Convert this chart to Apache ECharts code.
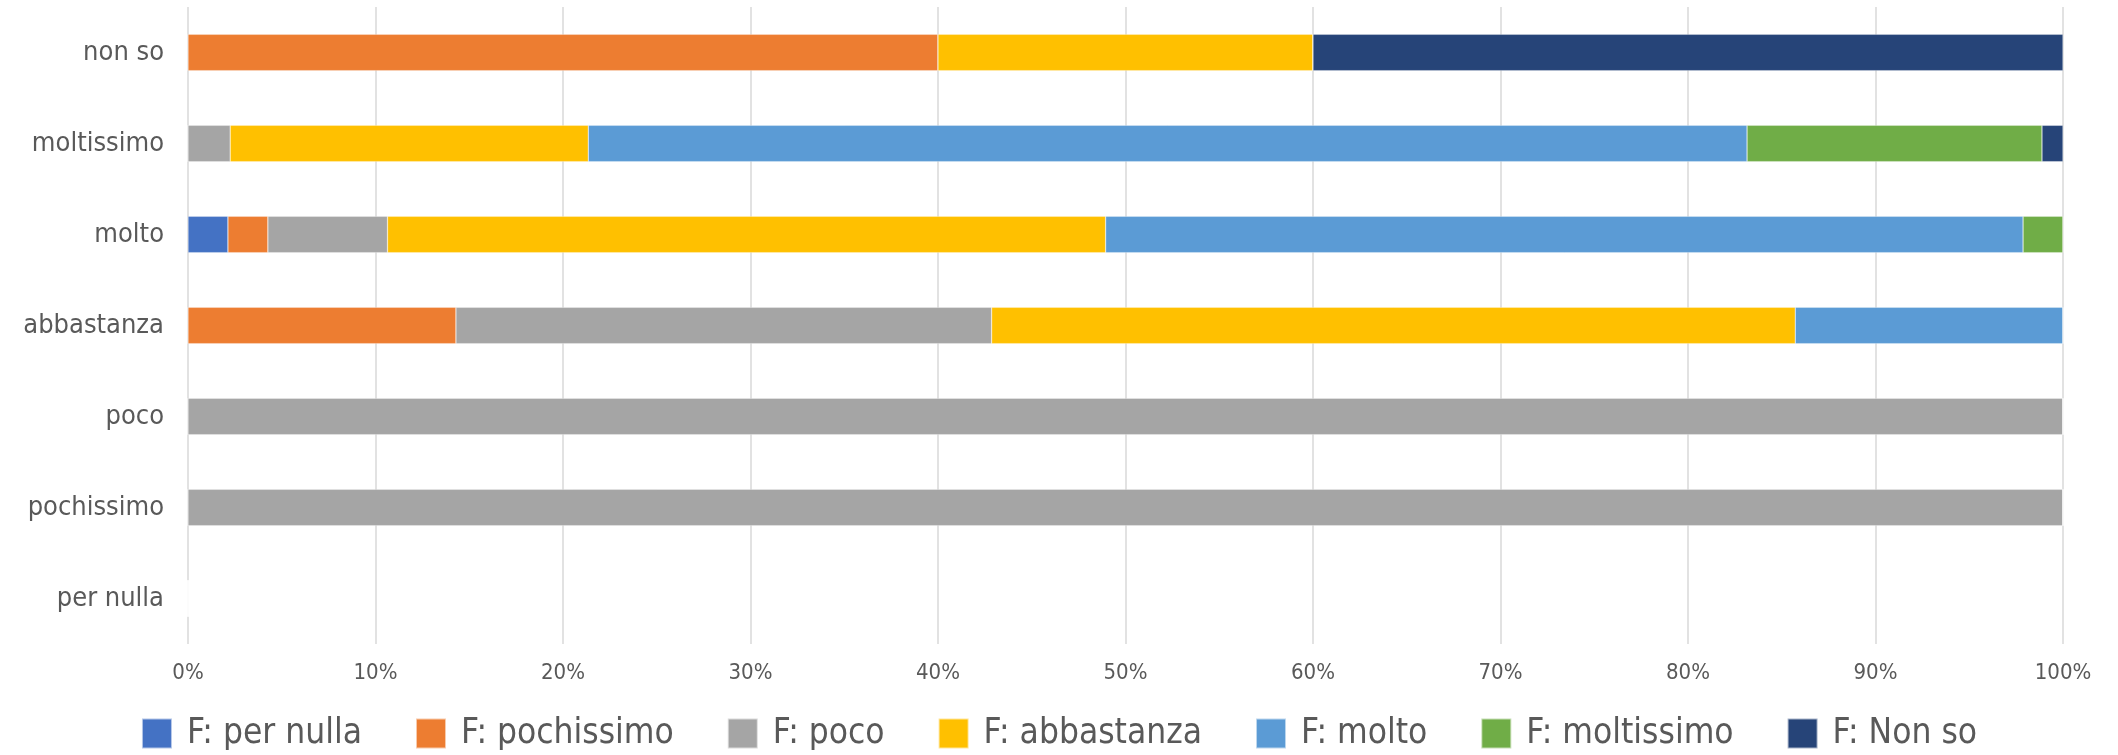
<!DOCTYPE html>
<html>
<head>
<meta charset="utf-8">
<script src="https://cdn.jsdelivr.net/npm/echarts@6/dist/echarts.min.js"></script>
<style>
  html, body { margin: 0; padding: 0; background: #fff; }
  #chart { width: 2118px; height: 755px; }
</style>
</head>
<body>
<div id="chart"></div>
<script>
// categorie (dal basso verso l'alto)
const categories = ['per nulla', 'pochissimo', 'poco', 'abbastanza', 'molto', 'moltissimo', 'non so'];
const xTicks = ['0%', '10%', '20%', '30%', '40%', '50%', '60%', '70%', '80%', '90%', '100%'];

// quote percentuali
const fPerNulla    = [0, 0, 0, 0, 2.13, 0, 0];
const fPochissimo  = [0, 0, 0, 14.29, 2.13, 0, 40];
const fPoco        = [0, 100, 100, 28.57, 6.38, 2.25, 0];
const fAbbastanza  = [0, 0, 0, 42.86, 38.30, 19.10, 20];
const fMolto       = [0, 0, 0, 14.28, 48.93, 61.80, 0];
const fMoltissimo  = [0, 0, 0, 0, 2.13, 15.73, 0];
const fNonSo       = [0, 0, 0, 0, 0, 1.12, 40];

const seriesNames = ['F: per nulla', 'F: pochissimo', 'F: poco', 'F: abbastanza', 'F: molto', 'F: moltissimo', 'F: Non so'];
const seriesValues = [fPerNulla, fPochissimo, fPoco, fAbbastanza, fMolto, fMoltissimo, fNonSo];
const colors = ['#4472C4', '#ED7D31', '#A5A5A5', '#FFC000', '#5B9BD5', '#70AD47', '#264478'];

const FONT = '"Liberation Sans Narrow", "DejaVu Sans Condensed", "Liberation Sans", sans-serif';

const chart = echarts.init(document.getElementById('chart'), null, { renderer: 'canvas' });

const option = {
    animation: false,
    color: colors,
    grid: {
        left: 188,
        right: 55,
        top: 7,
        bottom: 111,
        containLabel: false,
        outerBoundsMode: 'none'
    },
    xAxis: {
        type: 'value',
        min: 0,
        max: 100,
        interval: 10,
        axisLine: { show: false },
        axisTick: { show: false },
        splitLine: { show: true, lineStyle: { color: '#D9D9D9', width: 1.5 } },
        axisLabel: {
            color: '#595959',
            fontFamily: FONT,
            fontSize: 22,
            margin: 18,
            formatter: function (v) { return xTicks[Math.round(v / 10)]; }
        }
    },
    yAxis: {
        type: 'category',
        data: categories,
        axisLine: { show: false },
        axisTick: { show: false },
        splitLine: { show: false },
        axisLabel: {
            color: '#595959',
            fontFamily: FONT,
            fontSize: 27,
            margin: 24
        }
    },
    legend: {
        top: 711,
        left: 'center',
        itemWidth: 30,
        itemHeight: 30,
        itemGap: 53,
        icon: 'rect',
        textStyle: {
            color: '#595959',
            fontFamily: FONT,
            fontSize: 35,
            padding: [0, 0, 0, 10]
        },
        data: seriesNames
    },
    series: seriesNames.map(function (name, i) {
        return {
            name: name,
            type: 'bar',
            stack: 'totale',
            barWidth: '40%',
            data: seriesValues[i],
            itemStyle: { color: colors[i], borderColor: 'rgba(255,255,255,0.6)', borderWidth: 0.5 }
        };
    })
};

chart.setOption(option);
</script>
</body>
</html>
